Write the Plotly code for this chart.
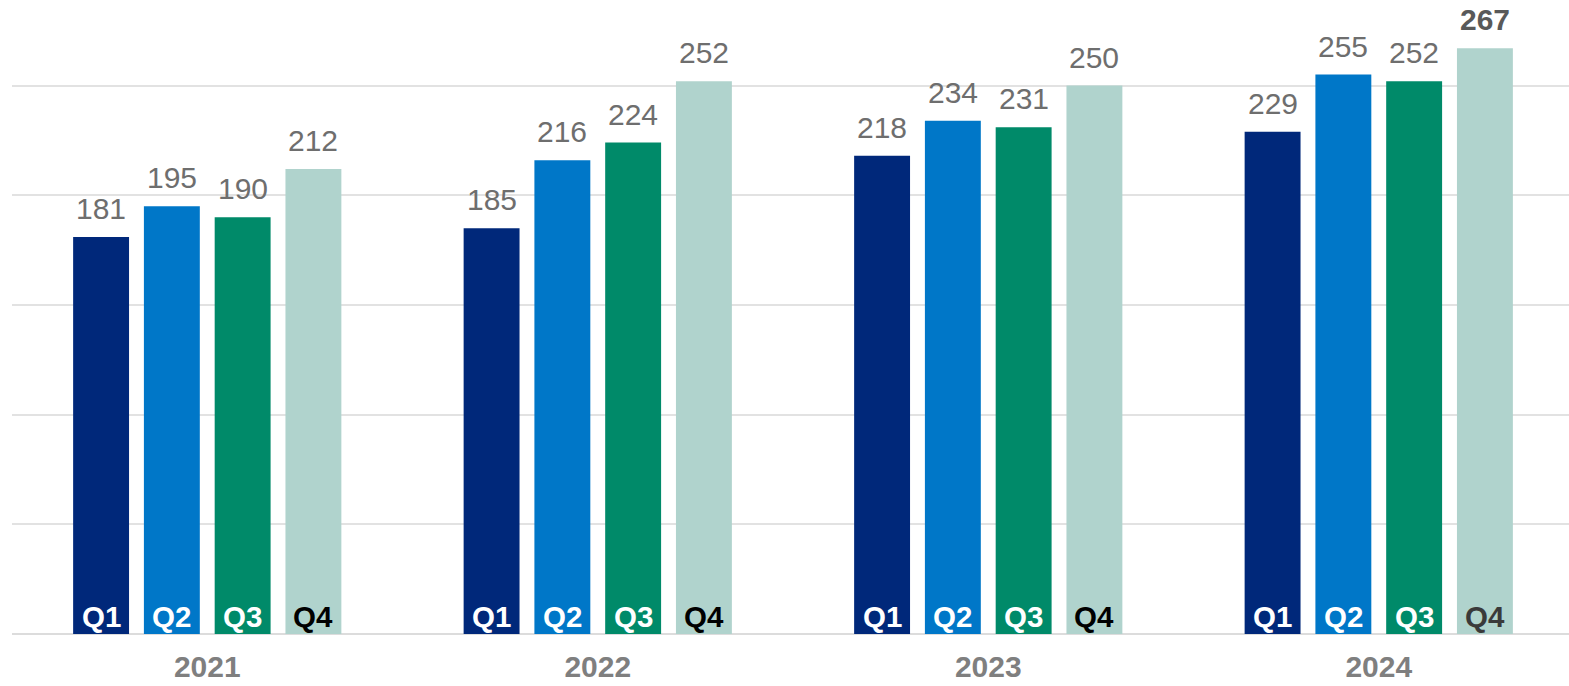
import plotly.graph_objects as go

years = ["2021", "2022", "2023", "2024"]
quarters = ["Q1", "Q2", "Q3", "Q4"]
q1 = [181, 185, 218, 229]
q2 = [195, 216, 234, 255]
q3 = [190, 224, 231, 252]
q4 = [212, 252, 250, 267]
series = [q1, q2, q3, q4]

colors = ["#00287a", "#0077c8", "#008a69", "#b0d3cd"]
label_colors = [["white"] * 4, ["white"] * 4, ["white"] * 4,
                ["black", "black", "black", "#3a3a3a"]]

BARGAP = 0.275
FONT = "Liberation Sans, Arial, sans-serif"

fig = go.Figure()
for i, (q, vals) in enumerate(zip(quarters, series)):
    fig.add_trace(go.Bar(
        x=years, y=vals, name=q,
        marker=dict(color=colors[i], line=dict(width=0)),
        hoverinfo="skip",
    ))

slot = (1 - BARGAP) / 4
annotations = []
for i, vals in enumerate(series):
    for j, v in enumerate(vals):
        xpos = j + (i - 1.5) * slot
        bold = (j == len(years) - 1 and i == 3)
        annotations.append(dict(
            x=xpos, y=v, xref="x", yref="y",
            text=f"<b>{v}</b>" if bold else str(v),
            showarrow=False, yanchor="bottom", xanchor="center", yshift=10,
            font=dict(family=FONT, size=30, color="#595959" if bold else "#6e6e6e"),
        ))
        annotations.append(dict(
            x=xpos, y=0, xref="x", yref="y",
            text=f"<b>{quarters[i]}</b>",
            showarrow=False, yanchor="bottom", xanchor="center", yshift=-1,
            font=dict(family=FONT, size=29.5, color=label_colors[i][j]),
        ))

fig.update_layout(
    width=1574, height=686,
    margin=dict(l=12, r=0, t=0, b=52),
    barmode="group", bargap=BARGAP, bargroupgap=0.21,
    plot_bgcolor="white", paper_bgcolor="white",
    showlegend=False,
    annotations=annotations,
    xaxis=dict(
        type="category", showgrid=False, showline=False, ticks="",
        automargin=False, ticklabelstandoff=12,
        tickfont=dict(family=FONT, size=30, color="#7f7f7f", weight="bold"),
    ),
    yaxis=dict(
        range=[0, 289], dtick=50, showticklabels=False, showgrid=True,
        automargin=False,
        gridcolor="#e2e2e2", gridwidth=2, zeroline=True, zerolinecolor="#dcdcdc",
        zerolinewidth=2, showline=False,
    ),
)

fig.write_html(
    "out.html",
    config={"displayModeBar": False},
    post_script="document.body.style.margin='0';document.body.style.overflow='hidden';",
)
